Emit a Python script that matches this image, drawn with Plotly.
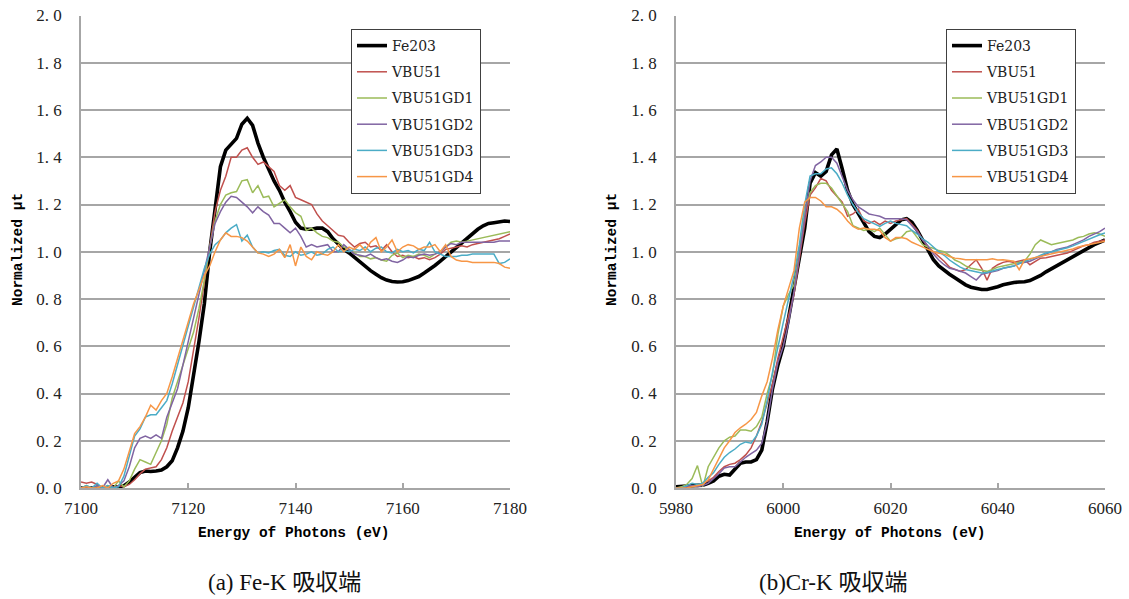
import plotly.graph_objects as go

# ---------------- data ----------------
fe_energy = list(range(7100, 7181))
cr_energy = list(range(5980, 6061))

series_names = ["Fe203", "VBU51", "VBU51GD1", "VBU51GD2", "VBU51GD3", "VBU51GD4"]
series_colors = ["#000000", "#C0504D", "#9BBB59", "#8064A2", "#4BACC6", "#F79646"]

fe_fe203 = [0.00, 0.00, 0.00, 0.00, 0.00, 0.00, 0.005, 0.005, 0.01, 0.025,
            0.045, 0.065, 0.072, 0.07, 0.072, 0.076, 0.09, 0.115, 0.17, 0.24,
            0.34, 0.47, 0.62, 0.78, 1.0, 1.18, 1.36, 1.43, 1.455, 1.48,
            1.54, 1.565, 1.535, 1.46, 1.40, 1.35, 1.30, 1.26, 1.21, 1.17,
            1.125, 1.10, 1.095, 1.095, 1.10, 1.10, 1.085, 1.055, 1.03, 1.01,
            0.995, 0.975, 0.955, 0.94, 0.92, 0.905, 0.89, 0.88, 0.874, 0.872,
            0.873, 0.878, 0.885, 0.895, 0.91, 0.925, 0.942, 0.96, 0.98, 1.0,
            1.02, 1.04, 1.06, 1.08, 1.095, 1.11, 1.12, 1.123, 1.127, 1.13, 1.128]
fe_vbu51 = [0.025, 0.02, 0.025, 0.015, 0.0, 0.005, 0.0, 0.01, 0.005, 0.015,
            0.035, 0.06, 0.08, 0.085, 0.09, 0.12, 0.17, 0.24, 0.30, 0.36,
            0.45, 0.58, 0.72, 0.87, 1.02, 1.17, 1.26, 1.32, 1.40, 1.40,
            1.43, 1.44, 1.40, 1.37, 1.38, 1.36, 1.34, 1.28, 1.26, 1.28,
            1.23, 1.22, 1.21, 1.20, 1.16, 1.13, 1.11, 1.09, 1.07, 1.065,
            1.04, 1.02, 1.035, 1.04, 1.02, 1.025, 1.005, 1.03, 1.0, 0.98,
            0.985, 0.975, 0.98, 0.97, 0.975, 0.966, 0.975, 0.99, 1.01, 1.015,
            1.02, 1.025, 1.02, 1.03, 1.035, 1.04, 1.045, 1.05, 1.055, 1.065, 1.075]
fe_gd1 = [0.0, 0.01, 0.0, 0.005, 0.0, 0.01, 0.0, 0.03, 0.005, 0.03,
          0.08, 0.12, 0.11, 0.10, 0.15, 0.20, 0.27, 0.38, 0.45, 0.52,
          0.58, 0.66, 0.76, 0.88, 1.02, 1.13, 1.20, 1.24, 1.25, 1.255,
          1.30, 1.305, 1.25, 1.28, 1.23, 1.235, 1.19, 1.205, 1.22, 1.19,
          1.165, 1.15, 1.09, 1.10, 1.08, 1.065, 1.06, 1.045, 1.04, 1.02,
          1.01, 0.995, 0.98, 0.98, 0.97, 0.975, 0.965, 0.96, 0.985, 0.995,
          0.975, 0.985, 0.98, 0.99, 0.985, 0.975, 0.99, 1.0, 1.02, 1.04,
          1.045, 1.04, 1.045, 1.05, 1.055, 1.06, 1.065, 1.07, 1.075, 1.08, 1.085]
fe_gd2 = [0.0, 0.005, 0.0, 0.01, 0.0, 0.035, 0.0, 0.01, 0.03, 0.09,
          0.17, 0.21, 0.22, 0.21, 0.225, 0.21, 0.30, 0.36, 0.42, 0.52,
          0.62, 0.72, 0.82, 0.92, 1.03, 1.12, 1.17, 1.21, 1.235, 1.23,
          1.21, 1.19, 1.165, 1.19, 1.17, 1.155, 1.12, 1.12, 1.10, 1.08,
          1.10, 1.065, 1.02, 1.03, 1.02, 1.025, 1.03, 1.0, 1.0, 1.03,
          1.01, 0.99, 0.985, 0.98, 0.99, 0.975, 0.965, 0.97, 0.96, 0.955,
          0.965, 0.98, 0.975, 0.985, 0.99, 0.985, 0.99, 1.0, 1.02, 1.035,
          1.03, 1.04, 1.04, 1.04, 1.04, 1.04, 1.04, 1.04, 1.045, 1.045, 1.045]
fe_gd3 = [0.0, 0.01, 0.0, 0.02, 0.0, 0.01, 0.0, 0.005, 0.05, 0.13,
          0.22, 0.25, 0.30, 0.31, 0.31, 0.34, 0.37, 0.44, 0.52, 0.60,
          0.68, 0.77, 0.85, 0.93, 0.99, 1.03, 1.05, 1.08, 1.10, 1.115,
          1.045, 1.07, 1.02, 0.995, 1.0, 0.995, 1.005, 1.01, 0.985, 0.98,
          1.0, 0.985, 0.99, 1.0, 0.985, 0.99, 1.01, 1.02, 1.0, 1.005,
          1.0, 1.01, 1.005, 1.02, 1.0, 1.015, 1.02, 1.0, 0.995, 1.01,
          1.0, 1.005, 0.995, 1.01, 1.005, 1.04, 1.0, 0.99, 0.98, 0.98,
          0.98, 0.985, 0.985, 0.99, 0.99, 0.99, 0.99, 0.99, 0.95, 0.955, 0.97]
fe_gd4 = [0.0, 0.005, 0.0, 0.0, 0.01, 0.0, 0.02, 0.03, 0.08, 0.15,
          0.23, 0.26, 0.30, 0.35, 0.33, 0.37, 0.40, 0.47, 0.55, 0.62,
          0.70, 0.78, 0.84, 0.90, 0.94, 1.0, 1.05, 1.08, 1.065, 1.065,
          1.06, 1.045, 1.02, 0.995, 0.99, 0.98, 0.99, 1.01, 0.975, 1.03,
          0.94, 1.02, 0.98, 0.966, 1.0, 0.99, 0.985, 1.0, 1.03, 1.0,
          1.02, 1.01, 1.03, 1.005, 1.04, 1.06, 1.0, 1.02, 1.05, 1.0,
          1.02, 1.03, 1.025, 1.01, 1.02, 1.02, 1.03, 1.0, 1.03, 0.98,
          0.965, 0.96, 0.96, 0.955, 0.955, 0.955, 0.955, 0.955, 0.95, 0.935, 0.93]

cr_fe203 = [0.005, 0.005, 0.008, 0.01, 0.01, 0.012, 0.02, 0.03, 0.05, 0.058,
            0.055, 0.08, 0.105, 0.11, 0.11, 0.12, 0.16, 0.28, 0.42, 0.52,
            0.60, 0.72, 0.85, 0.96, 1.10, 1.29, 1.335, 1.32, 1.34, 1.41,
            1.435, 1.35, 1.26, 1.20, 1.16, 1.12, 1.085, 1.065, 1.06, 1.075,
            1.095, 1.12, 1.135, 1.14, 1.125, 1.09, 1.05, 1.005, 0.966, 0.94,
            0.92, 0.905, 0.89, 0.874, 0.86, 0.85, 0.843, 0.84, 0.84, 0.845,
            0.852, 0.86, 0.866, 0.87, 0.872, 0.873, 0.878, 0.887, 0.9, 0.915,
            0.928, 0.94, 0.955, 0.967, 0.98, 0.995, 1.008, 1.02, 1.03, 1.04, 1.05]
cr_vbu51 = [0.0, 0.0, 0.005, 0.01, 0.01, 0.02, 0.03, 0.045, 0.07, 0.09,
            0.1, 0.105, 0.12, 0.14, 0.17, 0.22, 0.28, 0.36, 0.44, 0.55,
            0.64, 0.72, 0.82, 0.97, 1.12, 1.24, 1.27, 1.31, 1.30, 1.26,
            1.235, 1.21, 1.15, 1.16, 1.18, 1.13, 1.12, 1.13, 1.115, 1.13,
            1.12, 1.13, 1.135, 1.14, 1.115, 1.09, 1.05, 1.02, 1.0, 0.98,
            0.96, 0.935, 0.925, 0.917, 0.925, 0.945, 0.966, 0.93, 0.88, 0.93,
            0.945, 0.955, 0.96, 0.955, 0.96, 0.966, 0.945, 0.96, 0.973, 0.975,
            0.98, 0.985, 0.99, 0.995, 1.005, 1.015, 1.025, 1.03, 1.04, 1.045, 1.05]
cr_gd1 = [0.0, 0.005, 0.015, 0.04, 0.095, 0.005, 0.09, 0.13, 0.17, 0.2,
          0.215, 0.22, 0.245, 0.245, 0.24, 0.26, 0.30, 0.40, 0.48, 0.65,
          0.77, 0.82, 0.86, 1.0, 1.17, 1.25, 1.28, 1.29, 1.29, 1.27,
          1.235, 1.20, 1.17, 1.11, 1.10, 1.09, 1.095, 1.085, 1.10, 1.07,
          1.045, 1.055, 1.06, 1.085, 1.09, 1.06, 1.03, 1.02, 1.015, 1.005,
          1.0, 0.985, 0.965, 0.955, 0.94, 0.93, 0.925, 0.92, 0.917, 0.925,
          0.935, 0.94, 0.945, 0.952, 0.955, 0.96, 0.99, 1.03, 1.05, 1.04,
          1.03, 1.035, 1.04, 1.045, 1.05, 1.06, 1.065, 1.075, 1.08, 1.075, 1.065]
cr_gd2 = [0.0, 0.0, 0.005, 0.01, 0.005, 0.01, 0.02, 0.04, 0.06, 0.085,
          0.09, 0.09, 0.11, 0.13, 0.145, 0.16, 0.19, 0.28, 0.42, 0.53,
          0.60, 0.70, 0.83, 0.98, 1.15, 1.30, 1.365, 1.38, 1.40, 1.40,
          1.375, 1.32, 1.26, 1.22, 1.19, 1.175, 1.16, 1.155, 1.15, 1.14,
          1.14, 1.14, 1.14, 1.135, 1.11, 1.085, 1.05, 1.025, 0.99, 0.965,
          0.945, 0.93, 0.925, 0.917, 0.91, 0.895, 0.88, 0.905, 0.91, 0.915,
          0.92, 0.93, 0.935, 0.94, 0.95, 0.955, 0.96, 0.97, 0.98, 0.99,
          1.0, 1.01, 1.015, 1.02, 1.03, 1.04, 1.05, 1.065, 1.075, 1.085, 1.10]
cr_gd3 = [0.0, 0.0, 0.01, 0.02, 0.015, 0.02, 0.045, 0.065, 0.1, 0.13,
          0.15, 0.165, 0.185, 0.195, 0.19, 0.22, 0.27, 0.37, 0.49, 0.60,
          0.70, 0.80, 0.90, 1.03, 1.20, 1.32, 1.33, 1.33, 1.35, 1.355,
          1.33, 1.29, 1.24, 1.20, 1.165, 1.14, 1.13, 1.12, 1.107, 1.12,
          1.13, 1.12, 1.115, 1.11, 1.09, 1.075, 1.055, 1.04, 1.02, 1.0,
          0.985, 0.965, 0.95, 0.935, 0.925, 0.92, 0.915, 0.91, 0.912, 0.92,
          0.925, 0.93, 0.935, 0.94, 0.95, 0.958, 0.965, 0.975, 0.985, 0.995,
          1.0, 1.005, 1.01, 1.017, 1.025, 1.035, 1.045, 1.055, 1.065, 1.072, 1.08]
cr_gd4 = [0.0, 0.0, 0.0, 0.005, 0.01, 0.015, 0.035, 0.08, 0.13, 0.17,
          0.2, 0.235, 0.255, 0.27, 0.29, 0.32, 0.39, 0.45, 0.55, 0.67,
          0.77, 0.85, 0.92, 1.10, 1.21, 1.23, 1.23, 1.215, 1.19, 1.19,
          1.18, 1.16, 1.13, 1.107, 1.095, 1.10, 1.095, 1.095, 1.09, 1.06,
          1.045, 1.06, 1.06, 1.055, 1.04, 1.03, 1.02, 1.008, 1.0, 0.994,
          0.99, 0.98, 0.973, 0.97, 0.966, 0.966, 0.966, 0.968, 0.966, 0.97,
          0.965, 0.966, 0.962, 0.96, 0.924, 0.966, 0.97, 0.975, 0.98, 0.985,
          0.99, 0.994, 1.0, 1.005, 1.012, 1.02, 1.025, 1.03, 1.035, 1.04, 1.045]

fe_series = [fe_fe203, fe_vbu51, fe_gd1, fe_gd2, fe_gd3, fe_gd4]
cr_series = [cr_fe203, cr_vbu51, cr_gd1, cr_gd2, cr_gd3, cr_gd4]

y_tickvals = [0.0, 0.2, 0.4, 0.6, 0.8, 1.0, 1.2, 1.4, 1.6, 1.8, 2.0]
y_ticktext = ["0. 0", "0. 2", "0. 4", "0. 6", "0. 8", "1. 0", "1. 2", "1. 4", "1. 6", "1. 8", "2. 0"]
fe_xticks = [7100, 7120, 7140, 7160, 7180]
cr_xticks = [5980, 6000, 6020, 6040, 6060]

x_title = "Energy of Photons (eV)"
y_title = "Normalized μt"
caption_a = "(a) Fe-K 吸収端"
caption_b = "(b)Cr-K 吸収端"

# ---------------- figure ----------------
# The page's default body margin is removed (post_script below), so the figure
# fills the window and positions below are window pixels.
W, H = 1129, 599


def px(X):
    return X / W


def py(Y):
    return 1 - Y / H


fig = go.Figure()

for i, (name, color) in enumerate(zip(series_names, series_colors)):
    width = 3.6 if i == 0 else 1.5
    fig.add_trace(go.Scatter(x=fe_energy, y=fe_series[i], mode="lines", name=name,
                             line=dict(color=color, width=width),
                             xaxis="x", yaxis="y", legend="legend",
                             legendgroup="a" + str(i)))
for i, (name, color) in enumerate(zip(series_names, series_colors)):
    width = 3.6 if i == 0 else 1.5
    fig.add_trace(go.Scatter(x=cr_energy, y=cr_series[i], mode="lines", name=name,
                             line=dict(color=color, width=width),
                             xaxis="x2", yaxis="y2", legend="legend2",
                             legendgroup="b" + str(i)))

tick_font = dict(family="Liberation Serif", size=17, color="#222222")
grid_color = "#a6a6a6"


def xaxis(domain, anchor, ticks):
    return dict(domain=domain, anchor=anchor, range=[ticks[0], ticks[-1]],
                tickvals=ticks, ticktext=[str(t) for t in ticks],
                tickfont=tick_font, showgrid=False, zeroline=False,
                showline=True, linecolor=grid_color, linewidth=1.5,
                ticks="inside", ticklen=5, tickcolor=grid_color, tickwidth=1.5,
                ticklabelstandoff=4, automargin=False, ticklabeloverflow="allow")


def yaxis(domain, anchor):
    return dict(domain=domain, anchor=anchor, range=[0, 2.0],
                tickvals=y_tickvals, ticktext=y_ticktext, tickfont=tick_font,
                showgrid=True, gridcolor=grid_color, gridwidth=1.5,
                zeroline=False, showline=True, linecolor=grid_color, linewidth=1.5,
                ticks="", ticklabelstandoff=14, automargin=False,
                ticklabeloverflow="allow")


ydom = [py(488), py(15.5)]
legend_style = dict(bgcolor="white", bordercolor="#404040", borderwidth=1,
                    font=dict(family="DejaVu Serif", size=14, color="#222222"),
                    xanchor="left", yanchor="top", tracegroupgap=5,
                    itemwidth=30)

title_font = dict(family="Liberation Mono", size=14.5, color="#000000")
cap_font = dict(family="Liberation Serif, Noto Sans CJK JP", size=23, color="#111111")

fig.update_layout(
    width=W, height=H,
    margin=dict(l=0, r=0, t=0, b=0, autoexpand=False),
    paper_bgcolor="white", plot_bgcolor="white",
    showlegend=True,
    xaxis=xaxis([px(81), px(510)], "y", fe_xticks),
    yaxis=yaxis(ydom, "x"),
    xaxis2=xaxis([px(676), px(1105)], "y2", cr_xticks),
    yaxis2=yaxis(ydom, "x2"),
    legend=dict(x=px(351), y=py(29), **legend_style),
    legend2=dict(x=px(946), y=py(29), **legend_style),
    annotations=[
        dict(text="<b>" + x_title + "</b>", x=px(293), y=py(533), xref="paper", yref="paper",
             showarrow=False, font=title_font, xanchor="center", yanchor="middle"),
        dict(text="<b>" + x_title + "</b>", x=px(889), y=py(533), xref="paper", yref="paper",
             showarrow=False, font=title_font, xanchor="center", yanchor="middle"),
        dict(text="<b>" + y_title + "</b>", x=px(18), y=py(250), xref="paper", yref="paper",
             showarrow=False, font=title_font, textangle=-90, xanchor="center", yanchor="middle"),
        dict(text="<b>" + y_title + "</b>", x=px(612), y=py(250), xref="paper", yref="paper",
             showarrow=False, font=title_font, textangle=-90, xanchor="center", yanchor="middle"),
        dict(text=caption_a, x=px(284), y=py(582), xref="paper", yref="paper",
             showarrow=False, font=cap_font, xanchor="center", yanchor="middle"),
        dict(text=caption_b, x=px(833), y=py(582), xref="paper", yref="paper",
             showarrow=False, font=cap_font, xanchor="center", yanchor="middle"),
    ],
)

fig.write_html("out.html",
               config={"displayModeBar": False},
               post_script="document.body.style.margin='0';document.body.style.overflow='hidden';")
